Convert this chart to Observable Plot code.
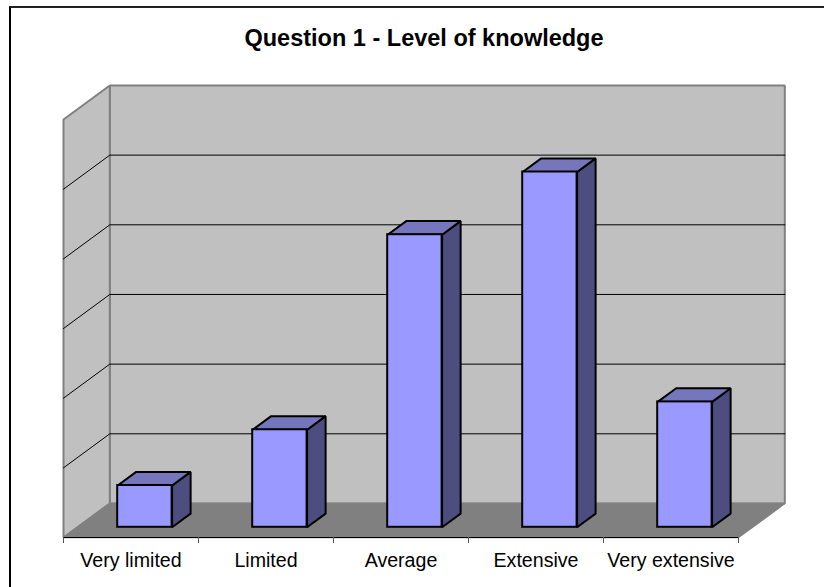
<!DOCTYPE html>
<html>
<head>
<meta charset="utf-8">
<script src="https://cdn.jsdelivr.net/npm/d3@7"></script>
<script src="https://cdn.jsdelivr.net/npm/@observablehq/plot@0.6"></script>
<style>
  html, body { margin: 0; padding: 0; background: #fff; overflow: hidden; }
  #chart { position: relative; width: 824px; height: 587px; }
  #frame { position: absolute; left: 9px; top: 6px; right: 0; bottom: 0; border-left: 2px solid #000; border-top: 2px solid #222; box-sizing: border-box; }
  #title { position: absolute; left: 24px; width: 800px; top: 25px; text-align: center; font: bold 23.5px "Liberation Sans", Arial, sans-serif; color: #000; }
  svg { position: absolute; left: 0; top: 0; }
</style>
</head>
<body>
<div id="chart"><div id="frame"></div><div id="title">Question 1 - Level of knowledge</div></div>
<script>
const categories = ["Very limited", "Limited", "Average", "Extensive", "Very extensive"];
const values = [6, 14, 42, 51, 18];
const gridValues = [10, 20, 30, 40, 50];
const axisMax = 60;
const boundaryTicks = [0, 1, 2, 3, 4, 5];

// Oblique projection: depth 0 is the front of the floor, depth 1 is the back wall.
const skewX = 0.343;
const skewY = 4.885;
const barWidth = 0.403;
const barDepthFront = 0.3;
const barDepthBack = 0.7;

const pt = (face, c, v, d) => ({face, x: c + d * skewX, y: v + d * skewY});

const backWall = [pt("b", 0, 0, 1), pt("b", 5, 0, 1), pt("b", 5, axisMax, 1), pt("b", 0, axisMax, 1)];
const leftWall = [pt("l", 0, 0, 0), pt("l", 0, 0, 1), pt("l", 0, axisMax, 1), pt("l", 0, axisMax, 0)];
const floor = [pt("f", 0, 0, 0), pt("f", 5, 0, 0), pt("f", 5, 0, 1), pt("f", 0, 0, 1)];

const gridLines = gridValues.flatMap((v) => [
  pt("g" + v, 0, v, 0), pt("g" + v, 0, v, 1), pt("g" + v, 5, v, 1)
]);

const bars = values.map((v, i) => {
  const x1 = i + 0.5 - barWidth / 2, x2 = i + 0.5 + barWidth / 2;
  return {i, v, x1, x2, d0: barDepthFront, d1: barDepthBack};
});
const barTops = bars.flatMap((b) => [
  pt("t" + b.i, b.x1, b.v, b.d0), pt("t" + b.i, b.x2, b.v, b.d0),
  pt("t" + b.i, b.x2, b.v, b.d1), pt("t" + b.i, b.x1, b.v, b.d1)
]);
const barSides = bars.flatMap((b) => [
  pt("s" + b.i, b.x2, 0, b.d0), pt("s" + b.i, b.x2, 0, b.d1),
  pt("s" + b.i, b.x2, b.v, b.d1), pt("s" + b.i, b.x2, b.v, b.d0)
]);
const barFronts = bars.map((b) => ({
  x1: pt("", b.x1, 0, b.d0).x, x2: pt("", b.x2, 0, b.d0).x,
  y1: pt("", 0, 0, b.d0).y, y2: pt("", 0, b.v, b.d0).y
}));

const poly = (data, fill, stroke, strokeWidth) => Plot.line(data, {
  x: "x", y: "y", z: "face", fill, stroke, strokeWidth,
  curve: "linear-closed", strokeLinejoin: "miter"
});

const plot = Plot.plot({
  width: 824, height: 587,
  marginLeft: 63, marginRight: 86, marginTop: 119, marginBottom: 50,
  style: {background: "transparent", fontFamily: "'Liberation Sans', Arial, sans-serif", fontSize: "19.6px", color: "#000"},
  x: {type: "linear", domain: [0, 5], label: null, axis: null},
  y: {type: "linear", domain: [0, axisMax], label: null, axis: null},
  marks: [
    poly(backWall, "#c0c0c0", "#808080", 2),
    poly(leftWall, "#c0c0c0", "#808080", 2),
    poly(floor, "#808080", "#808080", 1.5),
    Plot.line(gridLines, {x: "x", y: "y", z: "face", stroke: "#000", strokeWidth: 1}),
    poly(barSides, "#4d4d80", "#000", 2),
    poly(barTops, "#7676bd", "#000", 2),
    Plot.rect(barFronts, {x1: "x1", x2: "x2", y1: "y1", y2: "y2", fill: "#9999ff", stroke: "#000", strokeWidth: 2}),
    Plot.ruleY([0], {x1: 0, x2: 5, stroke: "#000", strokeWidth: 1.2}),
    Plot.axisX({ticks: boundaryTicks, tickSize: 6, tickFormat: () => "", stroke: "#555", label: null}),
    Plot.axisX({ticks: categories.map((_, i) => i + 0.5), tickSize: 0, tickPadding: 16,
      tickFormat: (t) => categories[Math.floor(t)], fontSize: 19.6, label: null})
  ]
});
document.getElementById("chart").appendChild(plot);
</script>
</body>
</html>
